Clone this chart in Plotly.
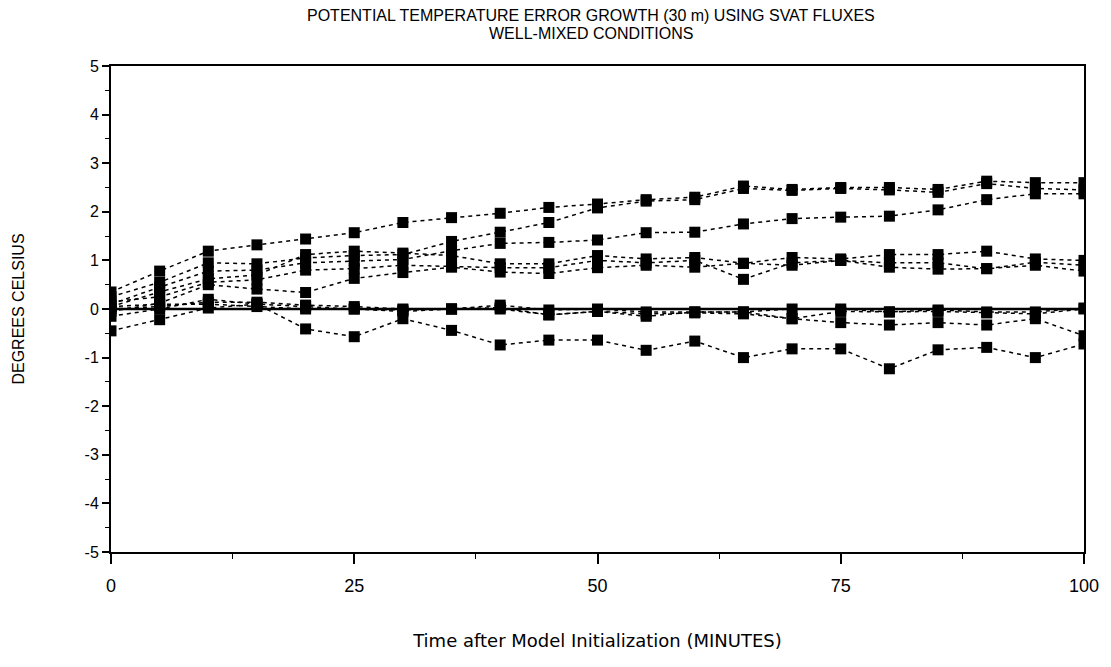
import plotly.graph_objects as go

minutes = [0, 5, 10, 15, 20, 25, 30, 35, 40, 45, 50, 55, 60, 65, 70, 75, 80, 85, 90, 95, 100]

s1 = [0.35, 0.78, 1.19, 1.32, 1.44, 1.57, 1.78, 1.88, 1.97, 2.09, 2.16, 2.25, 2.30, 2.53, 2.46, 2.50, 2.50, 2.46, 2.63, 2.60, 2.60]
s2 = [0.25, 0.55, 0.95, 0.93, 1.05, 1.10, 1.12, 1.39, 1.58, 1.78, 2.08, 2.22, 2.25, 2.48, 2.44, 2.48, 2.45, 2.40, 2.58, 2.48, 2.45]
s3 = [0.10, 0.45, 0.78, 0.80, 0.95, 0.98, 1.02, 1.20, 1.35, 1.37, 1.42, 1.57, 1.58, 1.75, 1.86, 1.89, 1.91, 2.04, 2.25, 2.37, 2.37]
s4 = [0.05, 0.35, 0.62, 0.70, 1.12, 1.19, 1.15, 1.10, 0.93, 0.93, 1.10, 1.03, 1.06, 0.94, 1.06, 1.03, 1.12, 1.12, 1.19, 1.03, 1.00]
s5 = [0.15, 0.25, 0.55, 0.60, 0.80, 0.83, 0.90, 0.88, 0.85, 0.85, 1.00, 0.95, 1.00, 0.61, 0.95, 1.00, 0.95, 0.95, 0.83, 0.96, 0.90]
s6 = [-0.05, 0.12, 0.50, 0.41, 0.34, 0.63, 0.75, 0.86, 0.76, 0.73, 0.85, 0.90, 0.86, 0.94, 0.90, 1.00, 0.86, 0.82, 0.83, 0.90, 0.78]
s7 = [0.00, 0.05, 0.14, 0.14, 0.08, 0.05, 0.00, 0.00, 0.08, -0.02, 0.00, -0.06, -0.06, -0.06, 0.00, 0.00, -0.06, -0.02, -0.06, -0.06, 0.02]
s8 = [-0.15, 0.00, 0.20, 0.10, 0.05, 0.00, -0.05, 0.00, 0.03, -0.12, -0.05, -0.15, -0.06, -0.06, -0.20, -0.05, -0.06, -0.05, -0.08, -0.10, 0.00]
s9 = [0.05, 0.10, 0.10, 0.05, 0.00, 0.00, -0.02, 0.00, 0.00, -0.12, -0.05, -0.10, -0.08, -0.10, -0.20, -0.28, -0.33, -0.28, -0.33, -0.20, -0.55]
s10 = [-0.45, -0.22, 0.02, 0.10, -0.41, -0.57, -0.20, -0.44, -0.74, -0.64, -0.64, -0.85, -0.66, -1.00, -0.82, -0.82, -1.23, -0.84, -0.79, -1.00, -0.72]

series = [s1, s2, s3, s4, s5, s6, s7, s8, s9, s10]

y_ticks = [-5, -4, -3, -2, -1, 0, 1, 2, 3, 4, 5]
x_ticks = [0, 25, 50, 75, 100]

title_lines = ["POTENTIAL TEMPERATURE ERROR GROWTH (30 m) USING SVAT FLUXES",
               "WELL-MIXED CONDITIONS"]

sans = "Liberation Sans, Arial, sans-serif"
wide = "DejaVu Sans, Liberation Sans, Arial, sans-serif"

fig = go.Figure()

# zero reference line
fig.add_trace(go.Scatter(x=[minutes[0], minutes[-1]], y=[0, 0], mode="lines",
                         line=dict(color="black", width=2.4), showlegend=False,
                         hoverinfo="skip"))

for s in series:
    fig.add_trace(go.Scatter(
        x=minutes, y=s, mode="lines+markers",
        line=dict(color="black", width=1.5, dash="4px,4px"),
        marker=dict(symbol="square", size=11, color="black"),
        showlegend=False,
    ))

# two-line title, placed line by line
fig.add_annotation(text=title_lines[0], xref="paper", yref="paper",
                   x=0.493, y=1.0, yshift=51, xanchor="center", yanchor="middle",
                   showarrow=False, font=dict(family=sans, size=16, color="black"))
fig.add_annotation(text=title_lines[1], xref="paper", yref="paper",
                   x=0.493, y=1.0, yshift=33, xanchor="center", yanchor="middle",
                   showarrow=False, font=dict(family=sans, size=16, color="black"))

fig.update_layout(
    width=1111, height=667,
    margin=dict(l=111, r=21, t=66, b=115),
    paper_bgcolor="white", plot_bgcolor="white",
    font=dict(family=sans, color="black"),
)

fig.update_xaxes(
    range=[0, 100], tickvals=x_ticks, ticktext=[str(v) for v in x_ticks],
    showgrid=False, zeroline=False,
    showline=True, linecolor="black", linewidth=2, mirror=True,
    ticks="outside", ticklen=10, tickwidth=1.5, tickcolor="black",
    ticklabelstandoff=6,
    minor=dict(dtick=12.5, tick0=0, ticks="outside", ticklen=5, tickwidth=1.2, tickcolor="black", showgrid=False),
    tickfont=dict(size=18, family=sans),
    title=dict(text="Time after Model Initialization (MINUTES)", font=dict(size=18, family=wide), standoff=40),
)

fig.update_yaxes(
    range=[-5, 5], tickvals=y_ticks, ticktext=[str(v) for v in y_ticks],
    showgrid=False, zeroline=False,
    showline=True, linecolor="black", linewidth=2, mirror=True,
    ticks="outside", ticklen=7, tickwidth=1.5, tickcolor="black",
    minor=dict(dtick=0.5, tick0=0, ticks="outside", ticklen=4, tickwidth=1.2, tickcolor="black", showgrid=False),
    tickfont=dict(size=16, family=sans),
    title=dict(text="DEGREES CELSIUS", font=dict(size=16, family=sans), standoff=56),
)

fig.write_html("out.html")
